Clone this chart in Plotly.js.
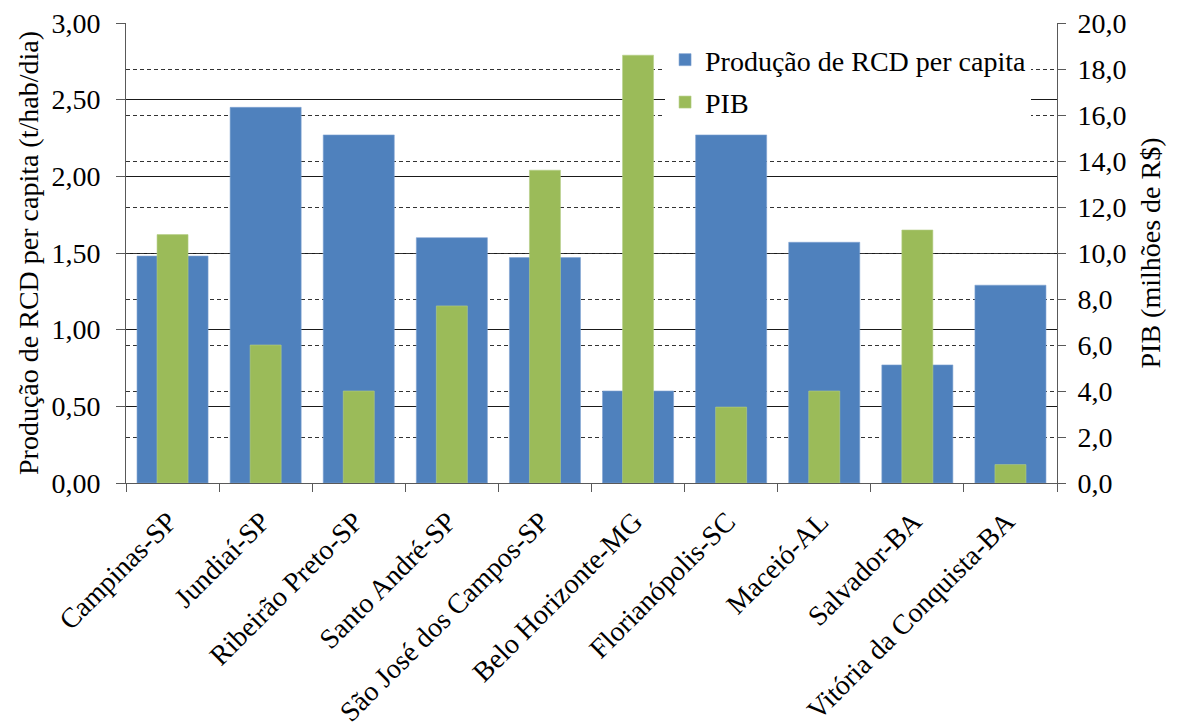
<!DOCTYPE html>
<html>
<head>
<meta charset="utf-8">
<script src="https://cdn.plot.ly/plotly-3.0.1.min.js"></script>
<style>
  html, body { margin: 0; padding: 0; background: #fff; }
  #chart { width: 1181px; height: 728px; }
</style>
</head>
<body>
<div id="chart"></div>
<script>
// Municípios
const cidades = [
  "Campinas-SP", "Jundiaí-SP", "Ribeirão Preto-SP", "Santo André-SP",
  "São José dos Campos-SP", "Belo Horizonte-MG", "Florianópolis-SC",
  "Maceió-AL", "Salvador-BA", "Vitória da Conquista-BA"
];
// Produção de RCD per capita (t/hab/dia)
const producaoRCD = [1.48, 2.45, 2.27, 1.60, 1.47, 0.60, 2.27, 1.57, 0.77, 1.29];
// PIB (milhões de R$)
const pib = [10.8, 6.0, 4.0, 7.7, 13.6, 18.6, 3.3, 4.0, 11.0, 0.8];

const leftTicks = [0, 0.5, 1, 1.5, 2, 2.5, 3];
const leftTickText = ["0,00", "0,50", "1,00", "1,50", "2,00", "2,50", "3,00"];
const rightTicks = [0, 2, 4, 6, 8, 10, 12, 14, 16, 18, 20];
const rightTickText = ["0,0", "2,0", "4,0", "6,0", "8,0", "10,0", "12,0", "14,0", "16,0", "18,0", "20,0"];

const FONT = "Liberation Serif";

const traces = [
  {
    type: "bar",
    name: "Produção de RCD per capita",
    legendgroup: "rcd",
    x: cidades,
    y: producaoRCD,
    yaxis: "y",
    width: 0.763,
    marker: { color: "#4F81BD", line: { color: "#7fa3d1", width: 0.6 } },
    hoverinfo: "x+y"
  },
  {
    type: "bar",
    name: "PIB",
    legendgroup: "pib",
    x: cidades,
    y: pib,
    yaxis: "y2",
    width: 0.333,
    marker: { color: "#9BBB59", line: { color: "#b5cf86", width: 0.6 } },
    hoverinfo: "x+y"
  }
];

const layout = {
  width: 1181,
  height: 728,
  margin: { l: 126, r: 124, t: 23, b: 245, pad: 0 },
  paper_bgcolor: "#ffffff",
  plot_bgcolor: "#ffffff",
  font: { family: FONT, size: 28, color: "#000" },
  barmode: "overlay",
  showlegend: true,
  legend: {
    x: 0.579, xanchor: "left",
    y: 0.974, yanchor: "top",
    bgcolor: "#ffffff",
    borderwidth: 0,
    font: { family: FONT, size: 28, color: "#000" },
    traceorder: "grouped",
    tracegroupgap: 3
  },
  xaxis: {
    type: "category",
    tickangle: -45,
    tickson: "boundaries",
    ticks: "outside",
    ticklen: 8,
    tickcolor: "#595959",
    ticklabelstandoff: 10,
    ticklabelshift: -4,
    showline: true,
    linecolor: "#595959",
    linewidth: 1,
    showgrid: false,
    tickfont: { family: FONT, size: 28, color: "#000" },
    automargin: false
  },
  yaxis: {
    range: [0, 3],
    tickvals: leftTicks,
    ticktext: leftTickText,
    ticks: "outside",
    ticklen: 9,
    tickcolor: "#595959",
    ticklabelstandoff: 10,
    showline: true,
    linecolor: "#595959",
    linewidth: 1,
    showgrid: true,
    gridcolor: "#1a1a1a",
    gridwidth: 1,
    zeroline: false,
    tickfont: { family: FONT, size: 28, color: "#000" },
    title: { text: "Produção de RCD per capita (t/hab/dia)", font: { family: FONT, size: 28, color: "#000" }, standoff: 4 },
    automargin: false
  },
  yaxis2: {
    overlaying: "y",
    side: "right",
    range: [0, 20],
    tickvals: rightTicks,
    ticktext: rightTickText,
    ticks: "outside",
    ticklen: 8,
    tickcolor: "#595959",
    ticklabelstandoff: 6,
    showline: true,
    linecolor: "#595959",
    linewidth: 1,
    showgrid: true,
    gridcolor: "#333333",
    gridwidth: 1,
    griddash: "4px,3px",
    zeroline: false,
    tickfont: { family: FONT, size: 28, color: "#000" },
    title: { text: "PIB (milhões de R$)", font: { family: FONT, size: 28, color: "#000" }, standoff: 14 },
    automargin: false
  }
};

Plotly.newPlot("chart", traces, layout, { displayModeBar: false, staticPlot: true });
</script>
</body>
</html>
